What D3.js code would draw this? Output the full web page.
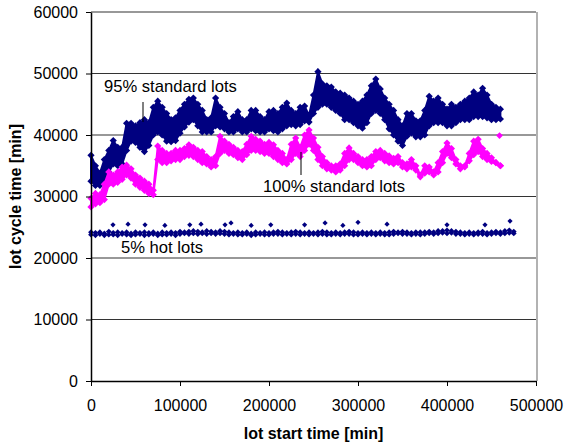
<!DOCTYPE html>
<html>
<head>
<meta charset="utf-8">
<script src="https://cdn.jsdelivr.net/npm/d3@7"></script>
<style>
    body { margin: 0; background: #fff; }
    text { font-family: Arial, "Liberation Sans", sans-serif; }
</style>
</head>
<body>
<div id="chart"></div>
<script>
// lot start times [min], one sample every 5000 min
const lotStart = [
    0, 5000, 10000, 15000, 20000, 25000, 30000, 35000, 40000, 45000,
    50000, 55000, 60000, 65000, 70000, 75000, 80000, 85000, 90000, 95000,
    100000, 105000, 110000, 115000, 120000, 125000, 130000, 135000, 140000, 145000,
    150000, 155000, 160000, 165000, 170000, 175000, 180000, 185000, 190000, 195000,
    200000, 205000, 210000, 215000, 220000, 225000, 230000, 235000, 240000, 245000,
    250000, 255000, 260000, 265000, 270000, 275000, 280000, 285000, 290000, 295000,
    300000, 305000, 310000, 315000, 320000, 325000, 330000, 335000, 340000, 345000,
    350000, 355000, 360000, 365000, 370000, 375000, 380000, 385000, 390000, 395000,
    400000, 405000, 410000, 415000, 420000, 425000, 430000, 435000, 440000, 445000,
    450000, 455000, 460000, 465000, 470000, 475000
];

// 95% standard lots: upper and lower edge of the point cloud
const std95Hi = [
    36700, 35000, 33800, 36000, 37500, 39100, 38000, 38000, 41900, 41900,
    41500, 42000, 42500, 42000, 44500, 45500, 44500, 43500, 42500, 42800,
    44000, 45000, 45800, 46000, 45000, 44000, 42500, 42800, 46000, 44500,
    43500, 42000, 43000, 43800, 42500, 42500, 44000, 44000, 43000, 42500,
    43800, 44000, 43500, 44500, 45200, 44000, 43500, 44500, 44700, 43200,
    46500, 50300, 48300, 48000, 47800, 47000, 46800, 46500, 46000, 45500,
    45000, 45500, 46500, 48000, 49100, 47500, 46000, 45000, 44000, 42500,
    41500, 43500, 43500, 42300, 42300, 44000, 46300, 45500, 46000, 45000,
    44200, 45000, 44500, 45000, 45500, 46000, 47000, 46500, 47600, 46500,
    45000, 44500, 44200
];
const std95Lo = [
    32500, 31800, 31800, 32500, 34000, 35300, 35000, 35300, 37500, 39000,
    38800, 38000, 37300, 38300, 40000, 40500, 40000, 39000, 38900, 39100,
    40300, 41300, 42100, 42500, 41500, 40500, 40500, 40500, 41500, 41300,
    41000, 40500, 40500, 41000, 40500, 40500, 41000, 40700, 40500, 40500,
    41000, 40700, 40500, 41000, 41500, 41700, 41500, 41700, 42300, 42100,
    43500, 44500, 45000, 45000, 44500, 44000, 43500, 42500, 42500, 42000,
    41500, 41100, 42000, 43500, 44000, 43500, 42500, 41000, 40000, 39000,
    38300, 39800, 40300, 39700, 39700, 40000, 41500, 42000, 42000, 42000,
    41500, 41500, 42000, 42500, 42500, 42500, 43000, 43000, 43000, 42800,
    42500, 42500, 42600
];

// 100% standard lots
const std100Hi = [
    29700, 30500, 30300, 32000, 34000, 33500, 34000, 34800, 35100, 34500,
    33500, 33000, 32500, 32000, 31000, 38200, 37500, 37000, 37000, 37500,
    37500, 37800, 38400, 38000, 37500, 37300, 36500, 36000, 36500, 39800,
    39000, 38500, 38000, 37500, 37300, 38500, 39800, 39300, 39000, 38500,
    38800, 38400, 37500, 37000, 36000, 38500, 39500, 38000, 40000, 40800,
    39500, 38000, 36500, 35500, 35000, 35000, 35300, 37000, 37900, 37000,
    36500, 36000, 36000, 36500, 37300, 37500, 37000, 36600, 36200, 36500,
    35500, 35300, 36000, 35000, 33500, 35000, 34800, 34000, 35500, 37300,
    38700, 37800, 36000, 35000, 35000, 37000, 39000, 39300, 37800, 37000,
    36300, 35500, 35000
];
const std100Lo = [
    28300, 28800, 29000, 29500, 32000, 32000, 32300, 32800, 33500, 33000,
    32000, 31500, 31000, 30500, 30300, 36000, 35500, 35500, 35800, 36000,
    36000, 36500, 36700, 36500, 36000, 35500, 35300, 34800, 35000, 37000,
    37500, 37000, 36800, 36300, 36000, 36800, 37500, 37500, 37300, 37000,
    37000, 36500, 36000, 35500, 35300, 36000, 37000, 36500, 37500, 38500,
    37500, 36000, 35000, 34500, 34300, 34000, 34300, 35000, 36000, 36000,
    35500, 35000, 34800, 35000, 36000, 36300, 35800, 35500, 35300, 35500,
    34800, 34500, 34800, 34300, 33200, 33800, 34000, 33500, 34000, 35500,
    37000, 36300, 35300, 34500, 34800, 35800, 36800, 37300, 36500, 36000,
    35700, 35500, 35000
];
const std100Extra = [[459000, 39900]];

// 5% hot lots
const hotHi = [
    24200, 24100, 24200, 24000, 24300, 24100, 24200, 24100, 24200, 24000,
    24200, 24100, 24200, 24100, 24200, 24000, 24200, 24100, 24200, 24100,
    24300, 24200, 24300, 24400, 24300, 24200, 24400, 24300, 24200, 24400,
    24300, 24200, 24100, 24200, 24100, 24200, 24000, 24200, 24100, 24200,
    24100, 24200, 24300, 24200, 24100, 24200, 24300, 24200, 24100, 24200,
    24100, 24200, 24300, 24200, 24100, 24200, 24100, 24200, 24300, 24200,
    24100, 24200, 24100, 24200, 24100, 24200, 24100, 24200, 24300, 24200,
    24300, 24200, 24100, 24200, 24200, 24200, 24300, 24200, 24400, 24400,
    24500, 24400, 24300, 24200, 24100, 24200, 24100, 24200, 24300, 24100,
    24200, 24300, 24200, 24400, 24500, 24300
];
const hotLo = [
    23800, 23700, 23900, 23700, 23800, 23800, 23700, 23900, 23800, 23700,
    23800, 23900, 23700, 23800, 23900, 23700, 23800, 23800, 23900, 23700,
    23900, 24000, 23900, 24000, 23900, 24000, 23900, 24000, 23900, 24000,
    23900, 23800, 23900, 23800, 23800, 23900, 23700, 23800, 23900, 23800,
    23800, 23900, 23900, 23800, 23900, 23800, 23900, 23800, 23900, 23800,
    23900, 23800, 23900, 23800, 23800, 23900, 23800, 23900, 23900, 23800,
    23800, 23900, 23800, 23900, 23800, 23900, 23800, 23800, 23900, 24000,
    23900, 23900, 23800, 23900, 23800, 23900, 24000, 23900, 24000, 24100,
    24000, 24100, 23900, 23900, 23800, 23900, 23800, 23900, 23900, 23800,
    23900, 24000, 23900, 24000, 24100, 24000
];
const hotSpikes = [
    [24700, 25400], [41600, 25500], [60700, 25400], [83000, 25300], [111000, 25400],
    [123600, 25500], [150600, 25400], [157300, 25700], [180000, 25300], [202000, 25400],
    [240000, 25400], [263000, 25700], [283000, 25300], [300000, 25800], [332600, 25500],
    [400000, 25400], [442700, 25400], [470800, 26000]
];

const xTicks = [0, 100000, 200000, 300000, 400000, 500000];
const yTicks = [0, 10000, 20000, 30000, 40000, 50000, 60000];
const xTitle = "lot start time [min]";
const yTitle = "lot cycle time [min]";

const navy = "#000080";
const magenta = "#ff00ff";

const margin = { top: 12, left: 91 };
const width = 445;
const height = 369;

const svg = d3.select("#chart").append("svg")
    .attr("width", 564)
    .attr("height", 447);

const chart = svg.append("g")
    .attr("transform", `translate(${margin.left},${margin.top})`);

const x = d3.scaleLinear().domain([0, 500000]).range([0, width]);
const y = d3.scaleLinear().domain([0, 60000]).range([height, 0]);

// gridlines
chart.append("g")
    .selectAll("line")
    .data(yTicks.filter(d => d > 0))
    .enter().append("line")
    .attr("x1", 0).attr("x2", width)
    .attr("y1", d => y(d)).attr("y2", d => y(d))
    .attr("stroke", "#333")
    .attr("stroke-width", 1.2);

// right border of plot area
chart.append("line")
    .attr("x1", width + 1).attr("x2", width + 1)
    .attr("y1", 0).attr("y2", height)
    .attr("stroke", "#999")
    .attr("stroke-width", 1.5);

const diamond = r => `M0,${-r}L${r},0L0,${r}L${-r},0Z`;

function drawBand(hi, lo, color, r) {
    const rows = hi.map((h, i) => ({ t: lotStart[i], hi: h, lo: lo[i] }));
    const area = d3.area()
        .x(d => x(d.t))
        .y0(d => y(d.lo))
        .y1(d => y(d.hi));
    const g = chart.append("g");
    g.append("path")
        .datum(rows)
        .attr("d", area)
        .attr("fill", color)
        .attr("stroke", color)
        .attr("stroke-width", 2);
    const pts = rows.flatMap(d => [[d.t, d.hi], [d.t, d.lo]]);
    g.selectAll("path.pt")
        .data(pts)
        .enter().append("path")
        .attr("class", "pt")
        .attr("d", diamond(r))
        .attr("transform", d => `translate(${x(d[0])},${y(d[1])})`)
        .attr("fill", color);
    return g;
}

drawBand(std95Hi, std95Lo, navy, 3.6);
const g100 = drawBand(std100Hi, std100Lo, magenta, 3.6);
g100.selectAll("path.extra")
    .data(std100Extra)
    .enter().append("path")
    .attr("class", "extra")
    .attr("d", diamond(3.4))
    .attr("transform", d => `translate(${x(d[0])},${y(d[1])})`)
    .attr("fill", magenta);

// hot lots
const hotPts = hotHi.flatMap((h, i) => [[lotStart[i], h], [lotStart[i], hotLo[i]]]);
chart.append("g")
    .selectAll("path")
    .data(hotPts)
    .enter().append("path")
    .attr("d", diamond(2.9))
    .attr("transform", d => `translate(${x(d[0])},${y(d[1])})`)
    .attr("fill", navy);
chart.append("g")
    .selectAll("path")
    .data(hotSpikes)
    .enter().append("path")
    .attr("d", diamond(2.6))
    .attr("transform", d => `translate(${x(d[0])},${y(d[1])})`)
    .attr("fill", navy);

// axes
const yAxis = chart.append("g")
    .call(d3.axisLeft(y).tickValues(yTicks).tickFormat(d3.format("d"))
        .tickSize(5).tickSizeOuter(0).tickPadding(8));
const xAxis = chart.append("g")
    .attr("transform", `translate(0,${height})`)
    .call(d3.axisBottom(x).tickValues(xTicks).tickFormat(d3.format("d"))
        .tickSize(5).tickSizeOuter(0).tickPadding(14));

[yAxis, xAxis].forEach(a => {
    a.select(".domain").attr("stroke", "#000").attr("stroke-width", 1.5);
    a.selectAll(".tick line").attr("stroke", "#000");
    a.selectAll(".tick text")
        .attr("fill", "#000")
        .style("font-size", "16px")
        .style("font-family", "Arial, 'Liberation Sans', sans-serif");
});

// axis titles
svg.append("text")
    .attr("x", margin.left + width / 2)
    .attr("y", 439)
    .attr("text-anchor", "middle")
    .style("font-size", "16px")
    .style("font-weight", "bold")
    .text(xTitle);

svg.append("text")
    .attr("transform", `translate(21,${margin.top + height / 2}) rotate(-90)`)
    .attr("text-anchor", "middle")
    .style("font-size", "16px")
    .style("font-weight", "bold")
    .text(yTitle);

// series labels with leader lines
const notes = [
    { text: "95% standard lots", x: 104, y: 92, line: [143, 102, 143, 122] },
    { text: "100% standard lots", x: 263, y: 192, line: [301, 152, 301, 175] },
    { text: "5% hot lots", x: 121, y: 253, line: null }
];
notes.forEach(n => {
    svg.append("text")
        .attr("x", n.x)
        .attr("y", n.y)
        .attr("fill", "#000")
        .style("font-size", "16.6px")
        .text(n.text);
    if (n.line) {
        svg.append("line")
            .attr("x1", n.line[0]).attr("y1", n.line[1])
            .attr("x2", n.line[2]).attr("y2", n.line[3])
            .attr("stroke", "#000")
            .attr("stroke-width", 1);
    }
});
</script>
</body>
</html>
